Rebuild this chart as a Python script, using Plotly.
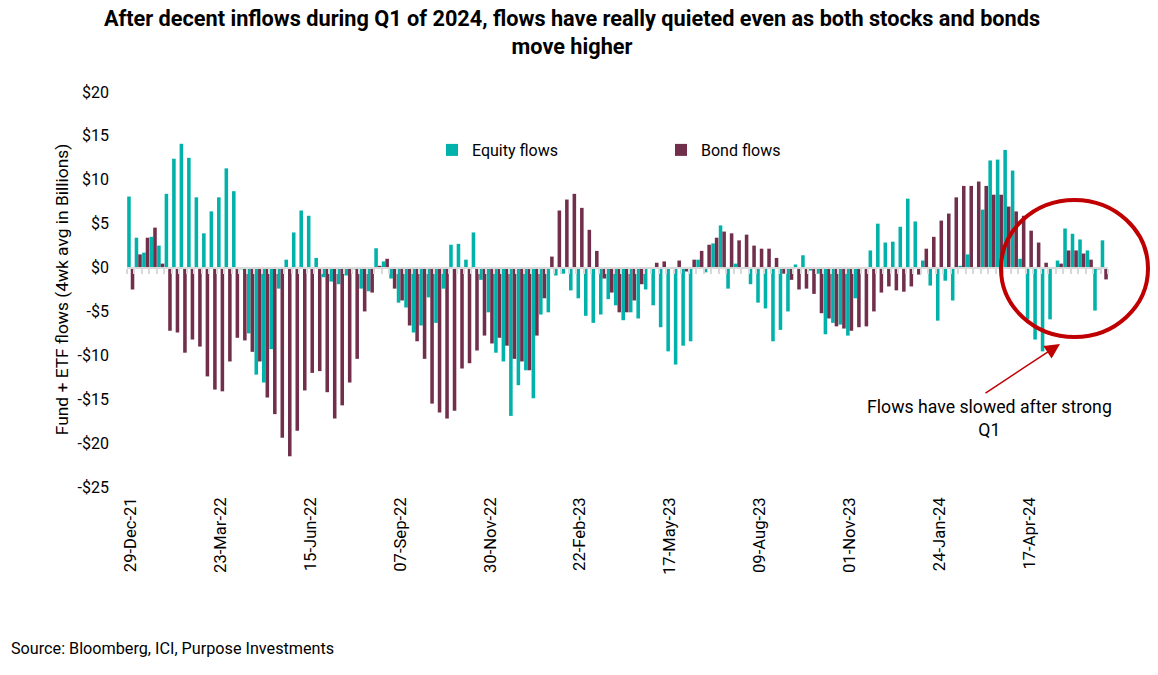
import plotly.graph_objects as go

equity = [8.09,3.4,1.7,3.5,2.5,8.4,12.4,14.1,12.5,8.0,3.9,6.4,8.0,11.3,8.7,-0.2,-7.5,-12.2,-13.1,-9.3,-2.4,0.9,4.0,6.5,5.9,1.1,-1.1,-1.6,-1.9,-0.9,-0.2,-2.4,-2.7,2.2,
          0.7,-1.25,-4.0,-4.55,-7.4,-6.6,-3.4,-6.3,-2.4,2.6,2.7,0.9,4.0,-1.4,-5.1,-9.7,-10.7,-16.9,-13.4,-11.7,-14.9,-5.35,-5.1,-0.9,-0.7,-2.6,-3.5,-5.5,-6.3,-5.35,-3.6,-4.3,-6.0,
          -5.1,-5.8,-2.5,-4.3,-6.8,-9.55,-11.05,-8.9,-8.4,0.9,-0.55,2.75,4.8,-2.4,0.45,0.0,-1.9,-4.0,-4.65,-8.4,-7.1,-5.0,0.35,1.4,-0.35,-0.7,-7.6,-6.3,-6.5,-7.75,-3.5,0.0,1.95,
          5.0,2.85,2.95,4.65,7.85,5.25,0.8,-2.05,-6.05,-1.5,-3.75,0.2,1.5,-0.1,6.6,12.2,12.3,13.4,11.05,1.0,-5.9,-8.2,-9.55,-5.9,0.8,4.45,3.85,3.2,1.95,-4.9,3.1]
bond = [-2.5,1.5,3.4,4.55,0.45,-7.2,-7.4,-9.7,-8.2,-9.0,-12.4,-13.9,-14.1,-10.7,-8.0,-8.3,-9.6,-10.7,-14.8,-16.7,-19.4,-21.5,-18.6,-14.0,-12.0,-11.8,-14.2,-17.2,-15.7,-13.1,-10.4,-5.0,-2.85,0.2,
        1.0,-2.4,-3.75,-6.6,-8.4,-10.4,-15.5,-16.5,-17.2,-16.3,-11.5,-10.9,-9.45,-7.75,-8.65,-8.0,-8.9,-10.4,-10.7,-11.7,-7.75,-3.5,1.25,6.5,7.75,8.4,6.8,4.3,1.9,-1.25,-2.85,-5.1,-5.1,
        -3.75,-1.9,-0.1,0.55,0.7,0.0,0.8,-0.45,0.9,1.9,2.6,3.4,4.1,3.9,3.1,3.75,2.5,2.15,2.15,1.1,-0.7,-1.4,-2.5,-2.4,-3.0,-5.2,-5.8,-6.7,-6.95,-7.2,-6.8,-6.7,-5.0,
        -2.85,-2.15,-2.6,-2.75,-2.15,-0.8,2.15,3.5,5.35,6.15,8.0,9.3,9.3,9.8,9.3,8.3,8.3,6.95,6.4,5.9,4.2,2.85,0.55,0.0,0.45,1.95,1.95,1.6,0.9,-0.2,-1.35]
week_index = list(range(len(equity)))
date_positions = [0,12,24,36,48,60,72,84,96,108,120]
date_labels = ["29-Dec-21","23-Mar-22","15-Jun-22","07-Sep-22","30-Nov-22","22-Feb-23","17-May-23","09-Aug-23","01-Nov-23","24-Jan-24","17-Apr-24"]
y_vals = [20,15,10,5,0,-5,-10,-15,-20,-25]
y_labels = ["$20","$15","$10","$5","$0","-$5","-$10","-$15","-$20","-$25"]

W, H = 1158, 675
L, R, T, B = 127, 1108, 92, 487
FONT = "Roboto"
px = lambda x: (x - L) / (R - L)
py = lambda y: (B - y) / (B - T)

fig = go.Figure()
fig.add_bar(x=week_index, y=equity, name="Equity flows", marker=dict(color="#00B2A9", line_width=0))
fig.add_bar(x=week_index, y=bond, name="Bond flows", marker=dict(color="#722F4C", line_width=0))
fig.add_scatter(x=[], y=[], xaxis="x2", showlegend=False, hoverinfo="skip")

rng = [-0.5, len(equity) - 0.5]
fig.update_layout(
    width=W, height=H, autosize=False,
    margin=dict(l=L, r=W - R, t=T, b=H - B, pad=0),
    paper_bgcolor="white", plot_bgcolor="white",
    barmode="group", bargap=0.05, bargroupgap=0,
    font=dict(family=FONT, size=16, color="#000000"),
    title=dict(text="<b>After decent inflows during Q1 of 2024, flows have really quieted even as both stocks and bonds<br>move higher</b>",
               x=572 / W, xanchor="center", y=1 - 26 / H, yanchor="middle",
               font=dict(family=FONT, size=21.7, color="#000000")),
    xaxis=dict(range=rng, tickmode="array", tickvals=date_positions, ticktext=date_labels,
               tickangle=-90, ticks="", showgrid=False, zeroline=False, showline=False,
               ticklabelstandoff=6, tickfont=dict(size=16.6)),
    xaxis2=dict(range=rng, overlaying="x", anchor="free", position=py(268), side="bottom",
                showticklabels=False, showgrid=False, zeroline=False,
                showline=True, linecolor="#D9D9D9", linewidth=2,
                tickmode="linear", tick0=-0.5, dtick=1, ticks="outside", ticklen=5, tickwidth=2, tickcolor="#D9D9D9"),
    yaxis=dict(range=[-25, 20], tickmode="array", tickvals=y_vals, ticktext=y_labels,
               showgrid=False, zeroline=False, showline=False, ticks="", ticklabelstandoff=17,
               title=dict(text="Fund + ETF flows (4wk avg in Billions)", standoff=4, font=dict(size=17.4))),
    legend=dict(orientation="h", x=(458 - 26 - L) / (R - L), xanchor="left", y=py(150), yanchor="middle",
                entrywidthmode="pixels", entrywidth=184, bgcolor="rgba(0,0,0,0)", font=dict(size=16), itemclick=False),
    shapes=[dict(type="circle", xref="paper", yref="paper", x0=px(1001), x1=px(1148), y0=py(337), y1=py(200),
                 line=dict(color="#C00000", width=4), fillcolor="rgba(0,0,0,0)")],
    annotations=[
        dict(xref="paper", yref="paper", x=px(1060), y=py(344), ax=984 - 1060, ay=394 - 344, text="", showarrow=True,
             arrowcolor="#C00000", arrowwidth=1.5, arrowhead=2, arrowsize=2),
        dict(xref="paper", yref="paper", x=px(989), y=py(418), text="Flows have slowed after strong<br>Q1", showarrow=False,
             xanchor="center", yanchor="middle", align="center", font=dict(size=17.7)),
        dict(xref="paper", yref="paper", x=px(9), y=py(648), text="Source: Bloomberg, ICI, Purpose Investments", showarrow=False,
             xanchor="left", yanchor="middle", font=dict(size=16.2)),
    ],
)
fig.write_html("out.html", config=dict(displayModeBar=False), post_script="document.body.style.margin='0';")
